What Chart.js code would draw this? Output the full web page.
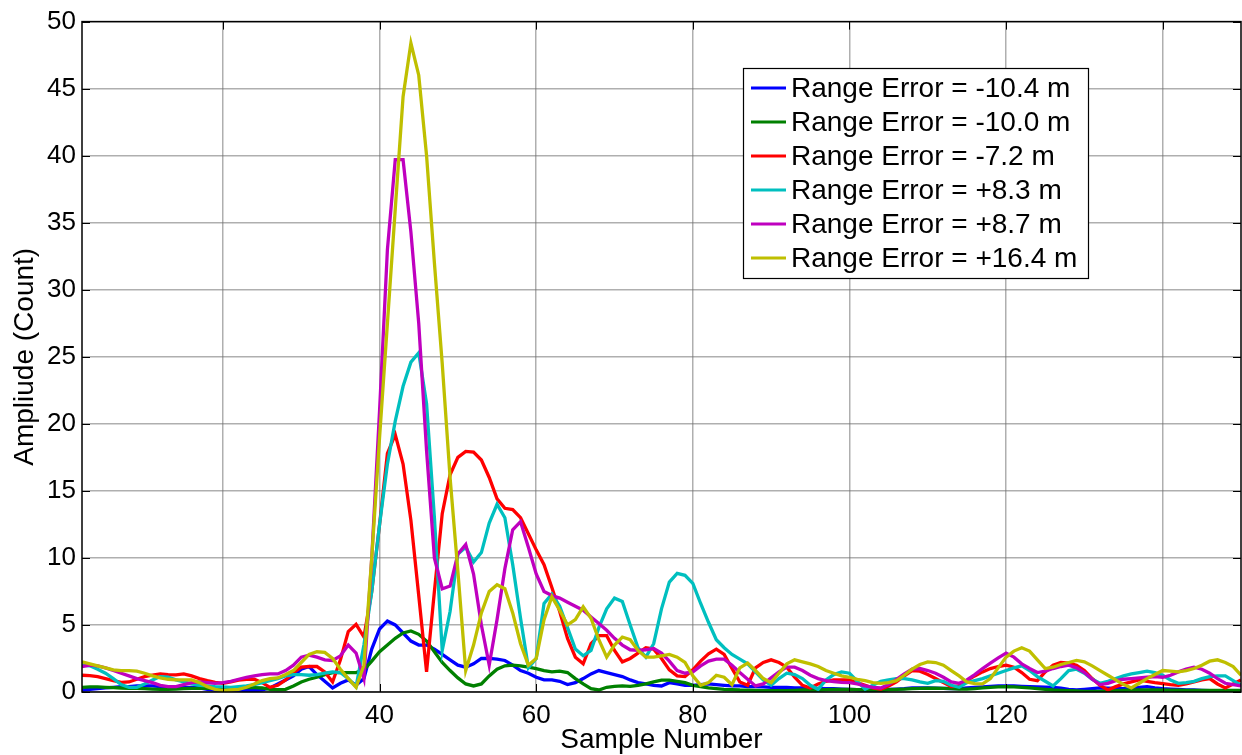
<!DOCTYPE html>
<html>
<head>
<meta charset="utf-8">
<script src="https://cdn.jsdelivr.net/npm/chart.js@4.4.1/dist/chart.umd.min.js"></script>
<style>
  html, body { margin: 0; padding: 0; background: #fff; }
  canvas { display: block; }
</style>
</head>
<body>
<canvas id="chart" width="1242" height="755"></canvas>
<script>
// sample numbers 2..150 (one value per sample)
const sampleNumbers = Array.from({ length: 149 }, (_, i) => i + 2);
const xTickValues = [20, 40, 60, 80, 100, 120, 140];

const seriesNames = [
  'Range Error = -10.4 m',
  'Range Error = -10.0 m',
  'Range Error = -7.2 m',
  'Range Error = +8.3 m',
  'Range Error = +8.7 m',
  'Range Error = +16.4 m'
];
const seriesColors = ['#0000ff', '#008000', '#ff0000', '#00bfbf', '#bf00bf', '#bfbf00'];

// Range Error = -10.4 m
const blueValues = [
  0.15, 0.2, 0.25, 0.3, 0.35, 0.4, 0.4, 0.45, 0.45,
  0.45, 0.4, 0.4, 0.35, 0.35, 0.35, 0.3, 0.2, 0.15, 0.15,
  0.15, 0.1, 0.1, 0.1, 0.15, 0.3, 0.6, 0.9, 1.2, 1.7,
  1.9, 1.3, 0.8, 0.3, 0.65, 0.9, 0.5, 1.0, 3.2, 4.7,
  5.3, 5.0, 4.4, 3.8, 3.5, 3.5, 3.2, 2.8, 2.4, 2.0,
  1.85, 2.1, 2.5, 2.5, 2.45, 2.35, 2.0, 1.6, 1.4, 1.1,
  0.9, 0.9, 0.8, 0.55, 0.7, 1.0, 1.35, 1.6, 1.45, 1.3,
  1.15, 0.9, 0.7, 0.6, 0.5, 0.45, 0.7, 0.6, 0.5, 0.5,
  0.55, 0.6, 0.55, 0.5, 0.45, 0.45, 0.4, 0.4, 0.38, 0.35,
  0.35, 0.35, 0.3, 0.3, 0.28, 0.27, 0.25, 0.25, 0.22, 0.2,
  0.18, 0.15, 0.15, 0.15, 0.2, 0.22, 0.25, 0.3, 0.3, 0.3,
  0.28, 0.27, 0.25, 0.25, 0.3, 0.35, 0.38, 0.42, 0.45, 0.45,
  0.45, 0.42, 0.4, 0.38, 0.36, 0.35, 0.28, 0.2, 0.15, 0.2,
  0.25, 0.3, 0.28, 0.27, 0.25, 0.3, 0.35, 0.4, 0.3, 0.25,
  0.22, 0.2, 0.15, 0.15, 0.12, 0.1, 0.08, 0.06, 0.05, 0.05
];

// Range Error = -10.0 m
const greenValues = [
  0.35, 0.38, 0.38, 0.35, 0.33, 0.3, 0.28, 0.27, 0.25,
  0.22, 0.2, 0.2, 0.22, 0.25, 0.27, 0.27, 0.27, 0.27, 0.28,
  0.3, 0.33, 0.35, 0.33, 0.3, 0.2, 0.18, 0.2, 0.45, 0.75,
  0.95, 1.1, 1.3, 1.45, 1.45, 1.45, 1.45, 1.65, 2.3, 3.0,
  3.5, 4.0, 4.4, 4.55, 4.3, 3.8, 3.0, 2.2, 1.6, 1.05,
  0.6, 0.45, 0.6, 1.2, 1.7, 1.95, 2.0, 1.95, 1.85, 1.75,
  1.6, 1.5, 1.55, 1.45, 1.0, 0.6, 0.25, 0.15, 0.35, 0.42,
  0.45, 0.42, 0.5, 0.6, 0.75, 0.88, 0.88, 0.8, 0.7, 0.5,
  0.4, 0.3, 0.25, 0.2, 0.18, 0.15, 0.14, 0.12, 0.1, 0.1,
  0.1, 0.1, 0.12, 0.15, 0.15, 0.15, 0.17, 0.2, 0.2, 0.2,
  0.18, 0.15, 0.15, 0.15, 0.18, 0.2, 0.22, 0.25, 0.27, 0.28,
  0.28, 0.27, 0.25, 0.22, 0.22, 0.25, 0.3, 0.35, 0.38, 0.4,
  0.38, 0.35, 0.3, 0.25, 0.2, 0.15, 0.12, 0.1, 0.08, 0.05,
  0.05, 0.05, 0.08, 0.1, 0.12, 0.15, 0.15, 0.15, 0.15, 0.15,
  0.14, 0.13, 0.12, 0.12, 0.12, 0.12, 0.12, 0.12, 0.12, 0.12
];

// Range Error = -7.2 m
const redValues = [
  1.25, 1.22, 1.15, 1.0, 0.85, 0.72, 0.75, 0.95, 1.15,
  1.25, 1.35, 1.3, 1.28, 1.35, 1.2, 1.0, 0.85, 0.72, 0.65,
  0.75, 0.88, 0.95, 0.95, 0.7, 0.35, 0.5, 0.9, 1.45, 1.85,
  1.9, 1.9, 1.5, 0.75, 2.4, 4.5, 5.05, 4.1, 7.5, 12.5,
  17.8, 19.2, 17.0, 12.8, 7.2, 1.5, 7.5, 13.3, 16.2, 17.5,
  17.95, 17.9, 17.3, 16.0, 14.4, 13.7, 13.6, 13.0, 11.8, 10.6,
  9.5, 7.8, 6.0, 4.0, 2.6, 2.1, 3.6, 4.2, 4.2, 3.1,
  2.25, 2.5, 2.9, 3.3, 3.2, 2.5, 1.65, 1.2, 1.15, 1.65,
  2.3, 2.85, 3.2, 2.8, 1.75, 0.75, 0.5, 1.8, 2.2, 2.4,
  2.2, 1.85, 1.1, 0.5, 0.3, 0.6, 0.8, 0.9, 0.9, 0.9,
  0.7, 0.5, 0.3, 0.2, 0.45, 0.75, 1.2, 1.6, 1.55, 1.3,
  1.0, 0.7, 0.4, 0.45, 0.85, 1.2, 1.5, 1.75, 1.9, 2.0,
  1.85, 1.45, 0.95, 0.85, 1.5, 2.0, 2.2, 2.15, 2.0, 1.6,
  1.0, 0.5, 0.15, 0.4, 0.6, 0.75, 0.9, 0.8, 0.7, 0.62,
  0.55, 0.5, 0.6, 0.75, 0.9, 1.0, 0.6, 0.3, 0.6, 0.9
];

// Range Error = +8.3 m
const cyanValues = [
  2.0, 1.95, 1.7, 1.4, 1.0, 0.55, 0.35, 0.35, 0.6,
  0.9, 1.15, 1.1, 0.9, 0.75, 0.6, 0.5, 0.45, 0.4, 0.38,
  0.35, 0.4, 0.45, 0.55, 0.7, 0.85, 1.0, 1.2, 1.3, 1.3,
  1.25, 1.3, 1.4, 1.5, 1.45, 1.0, 0.4, 3.5, 7.5, 12.5,
  17.0, 20.2, 22.8, 24.6, 25.3, 21.5, 13.0, 3.1, 6.0, 10.3,
  10.8, 9.7, 10.4, 12.6, 14.0, 13.0, 9.5, 5.5, 1.8, 2.5,
  6.6, 7.3, 6.4, 4.8, 3.2, 2.7, 3.1, 4.8, 6.2, 7.0,
  6.75, 5.0, 3.3, 2.6, 3.6, 6.2, 8.2, 8.85, 8.7, 8.1,
  6.6, 5.2, 3.9, 3.3, 2.8, 2.45, 2.1, 1.5, 0.9, 0.5,
  1.0, 1.4, 1.3, 1.0, 0.5, 0.2, 0.9, 1.3, 1.5, 1.4,
  0.8, 0.2, 0.5, 0.8, 0.9, 1.0, 1.0, 0.9, 0.75, 0.65,
  0.85, 0.8, 0.5, 0.35, 0.7, 0.85, 1.0, 1.2, 1.4, 1.6,
  1.8, 1.95, 1.6, 1.15, 0.8, 0.45, 1.0, 1.6, 1.7, 1.4,
  0.95, 0.65, 0.8, 1.0, 1.2, 1.35, 1.45, 1.55, 1.45, 1.25,
  0.9, 0.65, 0.7, 0.8, 1.0, 1.15, 1.2, 1.2, 0.85, 0.5
];

// Range Error = +8.7 m
const magentaValues = [
  1.9, 2.0, 1.95, 1.8, 1.6, 1.4, 1.2, 1.0, 0.85,
  0.7, 0.5, 0.4, 0.4, 0.55, 0.7, 0.75, 0.7, 0.65, 0.7,
  0.8, 0.95, 1.1, 1.2, 1.3, 1.35, 1.35, 1.6, 2.0, 2.6,
  2.75, 2.6, 2.4, 2.35, 2.7, 3.5, 2.9, 1.0, 10.0, 21.0,
  33.0, 39.7, 39.7, 34.3, 27.5, 18.0, 10.0, 7.7, 7.9, 10.3,
  11.0, 8.8, 5.0, 2.0, 5.4, 9.2, 12.1, 12.7, 10.8, 8.8,
  7.5, 7.2, 7.0, 6.7, 6.4, 6.1, 5.6, 5.1, 4.6, 4.0,
  3.5, 3.15, 3.1, 3.15, 3.25, 2.9, 2.3, 1.6, 1.4, 1.5,
  1.95, 2.3, 2.45, 2.45, 2.0, 1.45, 0.95, 0.45, 0.6, 1.05,
  1.5, 1.85, 1.85, 1.6, 1.25, 1.0, 0.85, 0.78, 0.72, 0.7,
  0.6, 0.45, 0.35, 0.3, 0.55, 0.95, 1.35, 1.7, 1.75, 1.6,
  1.4, 1.1, 0.75, 0.65, 0.9, 1.3, 1.75, 2.15, 2.55, 2.9,
  2.6, 2.1, 1.75, 1.45, 1.55, 1.75, 1.9, 2.0, 1.8, 1.45,
  0.95, 0.55, 0.65, 0.85, 0.95, 1.0, 1.05, 1.1, 1.15, 1.1,
  1.25, 1.5, 1.7, 1.85, 1.7, 1.4, 1.0, 0.65, 0.55, 0.45
];

// Range Error = +16.4 m
const yellowValues = [
  2.25, 2.1, 1.95, 1.8, 1.65, 1.6, 1.6, 1.55, 1.4,
  1.2, 1.05, 0.95, 0.9, 0.9, 0.9, 0.7, 0.4, 0.2, 0.1,
  0.15, 0.2, 0.35, 0.6, 0.85, 1.0, 1.05, 1.3, 1.6, 2.2,
  2.8, 3.0, 2.95, 2.5, 1.7, 1.0, 0.35, 2.0, 10.0, 19.0,
  27.5, 36.0, 44.4, 48.4, 46.0, 40.0, 32.0, 24.5, 16.0, 9.0,
  1.6, 3.5, 5.9, 7.5, 8.0, 7.7, 5.9, 3.6, 2.0, 2.5,
  5.4, 7.1, 6.1, 5.0, 5.4, 6.35, 5.5, 3.9, 2.6, 3.5,
  4.1, 3.9, 3.1, 2.6, 2.6, 2.7, 2.8, 2.6, 2.2, 1.2,
  0.5, 0.7, 1.25, 1.1, 0.55, 1.8, 2.15, 1.6, 1.0, 0.7,
  1.4, 2.1, 2.4, 2.25, 2.1, 1.9, 1.6, 1.4, 1.2, 1.1,
  0.95, 0.85, 0.7, 0.65, 0.7, 0.85, 1.25, 1.7, 2.05, 2.25,
  2.2, 2.0, 1.6, 1.2, 0.75, 0.62, 0.6, 1.0, 1.8, 2.6,
  3.05, 3.3, 3.05, 2.4, 1.75, 1.85, 2.05, 2.2, 2.35, 2.25,
  1.95, 1.6, 1.25, 0.9, 0.55, 0.3, 0.65, 1.0, 1.3, 1.6,
  1.55, 1.5, 1.6, 1.75, 2.0, 2.3, 2.4, 2.2, 1.9, 1.25
];

const allSeries = [blueValues, greenValues, redValues, cyanValues, magentaValues, yellowValues];

const FONT = "'Liberation Sans', Arial, sans-serif";

// rahmen, innere Teilstriche und Legende
const framePlugin = {
  id: 'framePlugin',
  afterDatasetsDraw(chart) {
    const ctx = chart.ctx;
    const a = chart.chartArea;
    const xs = chart.scales.x, ys = chart.scales.y;
    ctx.save();
    ctx.strokeStyle = '#000';
    ctx.lineWidth = 1;
    ctx.beginPath();
    xs.ticks.forEach(function(t) {
      const px = Math.round(xs.getPixelForValue(t.value)) + 0.5;
      ctx.moveTo(px, a.bottom); ctx.lineTo(px, a.bottom - 8);
      ctx.moveTo(px, a.top); ctx.lineTo(px, a.top + 8);
    });
    ys.ticks.forEach(function(t) {
      const py = Math.round(ys.getPixelForValue(t.value)) + 0.5;
      ctx.moveTo(a.left, py); ctx.lineTo(a.left + 8, py);
      ctx.moveTo(a.right, py); ctx.lineTo(a.right - 8, py);
    });
    ctx.stroke();
    ctx.lineWidth = 1.5;
    ctx.strokeRect(a.left, a.top, a.right - a.left, a.bottom - a.top);

    // Legende
    const bx = 743, by = 68, bw = 345, bh = 210, rowH = 34;
    ctx.fillStyle = '#fff';
    ctx.fillRect(bx, by, bw, bh);
    ctx.lineWidth = 1.2;
    ctx.strokeRect(bx + 0.5, by + 0.5, bw, bh);
    ctx.font = '28px ' + FONT;
    ctx.textBaseline = 'middle';
    ctx.textAlign = 'left';
    chart.data.datasets.forEach(function(ds, i) {
      const cy = by + 20 + i * rowH;
      ctx.strokeStyle = ds.borderColor;
      ctx.lineWidth = 3;
      ctx.beginPath();
      ctx.moveTo(bx + 8, cy); ctx.lineTo(bx + 43, cy);
      ctx.stroke();
      ctx.fillStyle = '#000';
      ctx.fillText(ds.label, bx + 48, cy + 1);
    });
    ctx.restore();
  }
};

const datasets = seriesNames.map(function(name, i) {
  return {
    label: name,
    data: allSeries[i].map(function(v, j) { return { x: sampleNumbers[j], y: v }; }),
    borderColor: seriesColors[i],
    backgroundColor: seriesColors[i],
    borderWidth: 3.3,
    pointRadius: 0,
    tension: 0,
    fill: false,
    order: seriesNames.length - i
  };
});

new Chart(document.getElementById('chart').getContext('2d'), {
  type: 'line',
  data: { datasets: datasets },
  options: {
    responsive: false,
    animation: false,
    devicePixelRatio: 1,
    layout: { padding: { left: 0, right: 1, top: 20, bottom: 0 } },
    plugins: { legend: { display: false }, tooltip: { enabled: false } },
    scales: {
      x: {
        type: 'linear',
        min: 2,
        max: 150,
        afterBuildTicks: function(scale) {
          scale.ticks = xTickValues.map(function(v) { return { value: v }; });
        },
        afterFit: function(scale) { scale.height = 63; },
        grid: { color: 'rgba(110,110,110,0.55)', lineWidth: 1.5, drawTicks: false },
        border: { display: false },
        ticks: { color: '#000', font: { family: FONT, size: 26 }, padding: 8, maxRotation: 0 },
        title: { display: true, text: 'Sample Number', color: '#000',
                 font: { family: FONT, size: 28 }, padding: { top: 0, bottom: -2 } }
      },
      y: {
        min: 0,
        max: 50,
        afterFit: function(scale) { scale.width = 82; },
        grid: { color: 'rgba(110,110,110,0.55)', lineWidth: 1.5, drawTicks: false },
        border: { display: false },
        ticks: { stepSize: 5, color: '#000', font: { family: FONT, size: 26 }, padding: 6 },
        title: { display: true, text: 'Ampliude (Count)', color: '#000',
                 font: { family: FONT, size: 28 }, padding: { top: 8, bottom: 0 } }
      }
    }
  },
  plugins: [framePlugin]
});
</script>
</body>
</html>
